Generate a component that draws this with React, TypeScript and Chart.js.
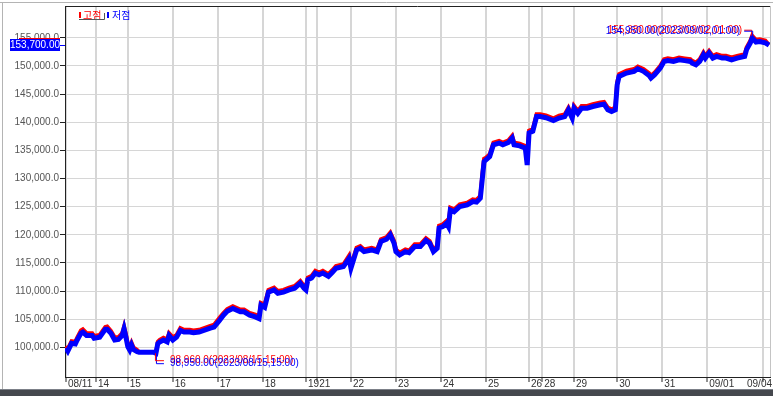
import React, { useEffect, useRef } from "react";
import { Chart, registerables } from "chart.js";
Chart.register(...registerables);

// time axis in hours since 2023/08/11 open
const HOURS = [0,1,3,5,6,8,9,11,14,15,18,21,22,24,26,28,30,31,32,33,34,35,36,38,39,47,48,49,50,52,54,55,57,59,61,63,66,68,71,77,79,82,84,86,89,93,95,98,101,103,104,106,108,111,113,116,119,122,125,127,128,129,131,133,135,137,140,142,144,148,151,152,155,157,159,163,166,168,171,173,175,176,178,181,183,186,189,192,194,196,198,199,201,203,204,205,207,210,214,217,219,221,222,223,224,226,228,231,233,236,238,239,242,245,246,247,249,251,253,256,260,263,266,268,270,271,273,275,278,281,285,287,289,291,293,294,295,299,303,305,308,311,312,314,317,319,321,324,327,330,333,334,336,338,340,341,343,345,347,350,352,355,358,362,363,365,366,368,370,373,375];

const LOW = [99900,99350,100700,100600,101300,102500,102700,102100,102100,101600,101800,103200,103200,102500,101300,101400,102100,103300,101800,100100,99500,100400,99600,99200,99100,99100,98950,100650,100950,101300,100950,102100,101300,101800,103000,102700,102700,102600,102700,103400,103600,104800,105700,106400,106900,106300,106300,105700,105400,105100,107500,107100,109800,110200,109600,109800,110200,110500,111400,110500,110200,112000,112300,113200,112900,113200,112600,113300,114050,114350,115800,114050,117300,117600,117000,117300,117000,118800,119200,120000,118500,117000,116400,117000,116800,117900,117900,119000,118500,117000,117600,121200,121450,122050,121450,124400,124100,125000,125300,125900,125800,126500,129750,133000,133300,133900,136000,136300,136000,136400,137200,136000,135800,135400,132400,138100,138400,141000,141000,140800,140300,140750,141000,142200,140750,142500,141600,142500,142500,142800,143100,143200,142200,141900,142200,146650,148150,148750,149050,149500,149050,148300,147850,148450,149650,150800,150950,150800,151100,150950,150800,150500,150200,150800,152000,151400,152300,151400,151700,151400,151400,151100,151400,151700,152900,154100,154950,154250,154350,154100,153700];

const HIGH = [100200,99700,101100,101000,101700,103000,103200,102500,102500,102000,102200,103600,103700,102900,101800,101800,102500,103700,102300,100600,99900,100800,100000,99500,99150,99150,98960,101000,101300,101700,101400,102500,101800,102200,103400,103100,103100,103000,103100,103800,104000,105300,106100,106800,107300,106700,106700,106100,105800,105500,107900,107600,110200,110600,110000,110200,110600,110900,111800,110900,110600,112400,112700,113600,113300,113600,113000,113700,114450,114750,116300,114500,117700,118000,117400,117700,117400,119200,119600,120400,118900,117400,116800,117400,117200,118300,118300,119400,118900,117400,118000,121600,121850,122450,121850,124800,124500,125400,125700,126300,126200,126900,130500,133500,133700,134300,136400,136700,136400,136800,137600,136400,136200,135800,134500,138500,138800,141400,141400,141200,140700,141150,141400,142600,141150,142900,142000,142900,142900,143200,143500,143600,142600,142300,142600,147100,148550,149150,149450,149900,149450,148700,148250,148850,150050,151200,151350,151200,151500,151350,151200,150900,150600,151200,152400,151800,152700,151800,152100,151800,151800,151500,151800,152100,153300,154500,155380,154650,154750,154500,153750];

const TICK_HOURS = [0,16,33,57,81,105,128,134,152,176,200,224,247,254,271,294,318,342,372];
const TICK_LABELS = ["08/11","14","15","16","17","18","19","21","22","23","24","25","26","28","29","30","31","09/01","09/04"];
const Y_TICKS = [100000,105000,110000,115000,120000,125000,130000,135000,140000,145000,150000,155000];
const LEGEND = ["고점", "저점"];
const MAX_NOTE_HIGH = "155,380.00(2023/09/02,01:00)";
const MAX_NOTE_LOW = "154,950.00(2023/09/02,01:00)";
const MIN_NOTE_HIGH = "98,960.0(2023/08/15,15:00)";
const MIN_NOTE_LOW = "98,950.00(2023/08/15,15:00)";
const LAST_VALUE = "153,700.00";

const RED = "#ff0000";
const BLUE = "#0000ff";

const overlay = {
  id: "overlay",
  afterDraw(chart: any) {
    const ctx = chart.ctx;
    const ca = chart.chartArea;
    const xs = chart.scales.x;
    const ys = chart.scales.y;
    ctx.save();

    // plot frame top / right
    ctx.strokeStyle = "#222";
    ctx.lineWidth = 1;
    ctx.beginPath();
    ctx.moveTo(ca.left, ca.top + 0.5);
    ctx.lineTo(ca.right, ca.top + 0.5);
    ctx.stroke();
    ctx.strokeStyle = "#c4c4c4";
    ctx.beginPath();
    ctx.moveTo(ca.right + 0.5, ca.top);
    ctx.lineTo(ca.right + 0.5, ca.bottom);
    ctx.stroke();

    // outer window frame
    ctx.strokeStyle = "#b4b4b4";
    ctx.beginPath();
    ctx.moveTo(0, 2.5);
    ctx.lineTo(773, 2.5);
    ctx.moveTo(2.5, 2);
    ctx.lineTo(2.5, 390);
    ctx.stroke();

    // legend
    ctx.font = '10px "Noto Sans CJK KR"';
    ctx.textBaseline = "middle";
    ctx.textAlign = "left";
    ctx.fillStyle = RED;
    ctx.fillRect(79, 12, 2, 6);
    ctx.fillText(LEGEND[0], 83, 15);
    ctx.strokeStyle = "#555";
    ctx.beginPath();
    ctx.moveTo(79, 19.5);
    ctx.lineTo(104.5, 19.5);
    ctx.lineTo(104.5, 13);
    ctx.stroke();
    ctx.fillStyle = BLUE;
    ctx.fillRect(107, 12, 2, 6);
    ctx.fillText(LEGEND[1], 112, 15);

    // max annotation
    let iMax = 0;
    HIGH.forEach((v, i) => { if (v > HIGH[iMax]) iMax = i; });
    let iMin = 0;
    LOW.forEach((v, i) => { if (v < LOW[iMin]) iMin = i; });
    const mx = xs.getPixelForValue(HOURS[iMax]);
    const my = ys.getPixelForValue(HIGH[iMax]);
    ctx.font = '10px "Liberation Sans"';
    ctx.lineWidth = 1;
    ctx.strokeStyle = RED;
    ctx.beginPath();
    ctx.moveTo(mx - 0.5, my);
    ctx.lineTo(mx - 0.5, my - 5.5);
    ctx.lineTo(mx - 8, my - 5.5);
    ctx.stroke();
    ctx.strokeStyle = BLUE;
    ctx.beginPath();
    ctx.moveTo(mx + 0.5, my);
    ctx.lineTo(mx + 0.5, my - 4.5);
    ctx.lineTo(mx - 8, my - 4.5);
    ctx.stroke();
    ctx.textAlign = "right";
    ctx.fillStyle = RED;
    ctx.fillText(MAX_NOTE_HIGH, mx - 10, my - 5);
    ctx.fillStyle = BLUE;
    ctx.fillText(MAX_NOTE_LOW, mx - 12, my - 4);

    // min annotation
    const nx = xs.getPixelForValue(HOURS[iMin]);
    const ny = ys.getPixelForValue(LOW[iMin]);
    ctx.strokeStyle = BLUE;
    ctx.beginPath();
    ctx.moveTo(nx + 0.5, ny);
    ctx.lineTo(nx + 0.5, ny + 10.5);
    ctx.lineTo(nx + 8, ny + 10.5);
    ctx.stroke();
    ctx.strokeStyle = RED;
    ctx.beginPath();
    ctx.moveTo(nx - 0.5, ny);
    ctx.lineTo(nx - 0.5, ny + 7.5);
    ctx.lineTo(nx + 8, ny + 7.5);
    ctx.stroke();
    ctx.textAlign = "left";
    ctx.fillStyle = RED;
    ctx.fillText(MIN_NOTE_HIGH, nx + 14, ny + 7.5);
    ctx.fillStyle = BLUE;
    ctx.fillText(MIN_NOTE_LOW, nx + 14, ny + 10.5);

    // current value box
    const last = LOW.length - 1;
    const cy = Math.round(ys.getPixelForValue(LOW[last]));
    ctx.fillStyle = RED;
    ctx.fillRect(19, cy - 7, 41, 12);
    ctx.fillStyle = BLUE;
    ctx.fillRect(10, cy - 6, 50, 12);
    ctx.fillRect(60, cy, 5, 1);
    ctx.fillStyle = "#ffffff";
    ctx.textAlign = "center";
    ctx.font = '10px "Liberation Sans"';
    ctx.fillText(LAST_VALUE, 35, cy + 0.5);

    // x labels
    ctx.fillStyle = "#333";
    ctx.textAlign = "left";
    ctx.textBaseline = "middle";
    TICK_HOURS.forEach((h, i) => {
      const px = xs.getPixelForValue(h);
      const w = ctx.measureText(TICK_LABELS[i]).width;
      const x = Math.min(px + 2, 772 - w);
      ctx.fillText(TICK_LABELS[i], x, ca.bottom + 7);
    });

    // bottom bar
    ctx.fillStyle = "#45484e";
    ctx.fillRect(0, 390, 773, 6);
    ctx.fillStyle = "#7c8088";
    ctx.fillRect(0, 389, 773, 1);
    ctx.restore();
  },
};

export default function App() {
  const ref = useRef<HTMLCanvasElement | null>(null);
  useEffect(() => {
    if (!ref.current) return;
    const chart = new Chart(ref.current, {
      type: "line",
      data: {
        datasets: [
          {
            label: LEGEND[1],
            data: HOURS.map((h, i) => ({ x: h, y: LOW[i] })),
            borderColor: BLUE,
            borderWidth: 5,
            pointRadius: 0,
            tension: 0,
            order: 0,
          },
          {
            label: LEGEND[0],
            data: HOURS.map((h, i) => ({ x: h, y: HIGH[i] })),
            borderColor: RED,
            borderWidth: 4,
            pointRadius: 0,
            tension: 0,
            order: 1,
          },
        ],
      },
      options: {
        responsive: false,
        animation: false,
        devicePixelRatio: 1,
        layout: { padding: { top: 6, right: 3, left: 0, bottom: 0 } },
        plugins: { legend: { display: false }, tooltip: { enabled: false } },
        scales: {
          x: {
            type: "linear",
            min: -0.5,
            max: 375.5,
            afterBuildTicks: (s: any) => {
              s.ticks = TICK_HOURS.map((v) => ({ value: v }));
            },
            afterFit: (s: any) => {
              s.height = 19;
              s.paddingLeft = 0;
              s.paddingRight = 0;
              s.paddingTop = 0;
              s.paddingBottom = 0;
            },
            ticks: { display: false, autoSkip: false },
            grid: { color: "#d6d6d6", lineWidth: 2, drawTicks: true, tickLength: 5, tickColor: "#222", tickWidth: 1 },
            border: { display: true, color: "#222", width: 1 },
          },
          y: {
            min: 94720,
            max: 160660,
            afterBuildTicks: (s: any) => {
              s.ticks = Y_TICKS.map((v) => ({ value: v }));
            },
            afterFit: (s: any) => {
              s.width = 65;
              s.paddingLeft = 0;
              s.paddingRight = 0;
              s.paddingTop = 0;
              s.paddingBottom = 0;
            },
            ticks: {
              autoSkip: false,
              padding: 1,
              color: "#555",
              font: { family: "Liberation Sans", size: 10 },
              callback: (v: any) => Number(v).toLocaleString("en-US") + ".0",
            },
            grid: { color: "#d6d6d6", lineWidth: 1, drawTicks: true, tickLength: 5, tickColor: "#222" },
            border: { display: true, color: "#222", width: 1 },
          },
        },
      },
      plugins: [overlay],
    });
    return () => chart.destroy();
  }, []);
  return (
    <div style={{ position: "fixed", left: 0, top: 0, width: 773, height: 396, background: "#fff" }}>
      <canvas ref={ref} width={773} height={396} style={{ display: "block" }} />
    </div>
  );
}
